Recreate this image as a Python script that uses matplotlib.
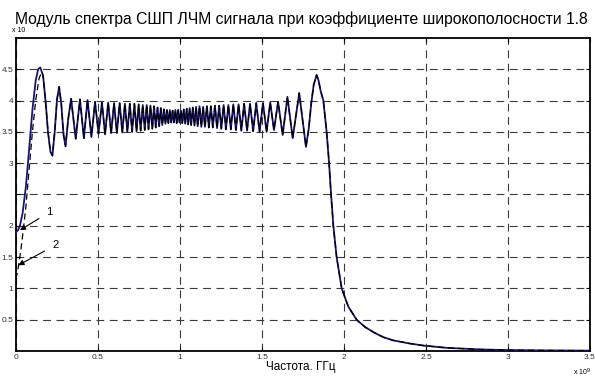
import matplotlib
matplotlib.use("Agg")
import matplotlib.pyplot as plt
import numpy as np

plt.rcParams['font.family'] = ['Liberation Sans', 'DejaVu Sans']

# ---- data (frequency in GHz, amplitude in units of 10^-10) ----
rise1_f = [0.000, 0.012, 0.024, 0.040, 0.060, 0.080, 0.100, 0.120, 0.135, 0.148]
rise1_a = [1.90, 1.93, 2.00, 2.20, 2.62, 3.22, 3.85, 4.32, 4.50, 4.53]

rise2_f = [0.000, 0.015, 0.030, 0.045, 0.060, 0.080, 0.100, 0.120, 0.140, 0.157]
rise2_a = [1.15, 1.35, 1.62, 1.95, 2.30, 2.90, 3.50, 4.00, 4.35, 4.46]

shared_f = [0.165, 0.180, 0.195, 0.210, 0.222, 0.236, 0.250, 0.263, 0.276, 0.290, 0.302,
            0.318, 0.336, 0.364, 0.390, 0.414, 0.436, 0.460, 0.482, 0.503, 0.524,
            0.543, 0.562, 0.580, 0.598, 0.615, 0.632, 0.648, 0.664, 0.679, 0.694,
            0.708, 0.722, 0.735, 0.748, 0.760, 0.773, 0.785, 0.797, 0.808, 0.820,
            0.831, 0.842, 0.852, 0.863, 0.873, 0.883, 0.892, 0.902, 0.911, 0.920,
            0.929, 0.938, 0.946, 0.955, 0.963, 0.972, 0.980, 0.989, 0.997, 1.006,
            1.014, 1.023, 1.032, 1.041, 1.050, 1.059, 1.068, 1.078, 1.088, 1.098,
            1.108, 1.119, 1.130, 1.141, 1.152, 1.164, 1.176, 1.188, 1.200, 1.213,
            1.226, 1.239, 1.252, 1.266, 1.280, 1.295, 1.310, 1.325, 1.341, 1.357,
            1.374, 1.391, 1.409, 1.427, 1.446, 1.465, 1.485, 1.506, 1.528, 1.550,
            1.573, 1.598, 1.626, 1.655, 1.687, 1.727, 1.768, 1.785, 1.800, 1.815,
            1.833, 1.845, 1.858, 1.874, 1.894, 1.909, 1.921, 1.935, 1.955, 1.986,
            2.026, 2.077, 2.130, 2.180, 2.240, 2.300, 2.400, 2.490, 2.630, 2.830,
            3.000, 3.200, 3.500]
shared_a = [4.40, 4.00, 3.50, 3.18, 3.12, 3.50, 4.02, 4.22, 3.95, 3.45, 3.27,
            3.70, 4.03, 3.39, 4.02, 3.40, 4.01, 3.42, 3.98, 3.47, 3.97,
            3.46, 3.97, 3.48, 3.96, 3.48, 3.96, 3.49, 3.95, 3.50, 3.95,
            3.50, 3.95, 3.51, 3.94, 3.52, 3.93, 3.53, 3.93, 3.54, 3.92,
            3.55, 3.91, 3.57, 3.89, 3.59, 3.88, 3.61, 3.86, 3.63, 3.85,
            3.64, 3.85, 3.65, 3.84, 3.65, 3.85, 3.64, 3.85, 3.65, 3.84,
            3.64, 3.86, 3.63, 3.87, 3.62, 3.88, 3.61, 3.89, 3.60, 3.90,
            3.59, 3.91, 3.58, 3.90, 3.58, 3.91, 3.57, 3.91, 3.57, 3.92,
            3.56, 3.92, 3.55, 3.93, 3.54, 3.93, 3.54, 3.94, 3.53, 3.94,
            3.52, 3.95, 3.52, 3.95, 3.51, 3.96, 3.50, 3.96, 3.50, 3.97,
            3.53, 3.98, 3.45, 4.06, 3.40, 4.12, 3.26, 3.55, 3.95, 4.25,
            4.41, 4.32, 4.15, 4.00, 3.50, 3.00, 2.50, 2.00, 1.50, 1.00,
            0.71, 0.50, 0.38, 0.30, 0.22, 0.17, 0.12, 0.085, 0.05, 0.025,
            0.015, 0.010, 0.006]

x_ticks = [0, 0.5, 1, 1.5, 2, 2.5, 3, 3.5]
x_tick_labels = ['0', '0.5', '1', '1.5', '2', '2.5', '3', '3.5']
y_ticks = [0.5, 1, 1.5, 2, 2.5, 3, 3.5, 4, 4.5]
y_tick_labels = ['0.5', '1', '1.5', '2', '', '3', '3.5', '4', '4.5']

title = 'Модуль спектра СШП ЛЧМ сигнала при коэффициенте широкополосности 1.8'
xlabel = 'Частота. ГГц'

curve1_f = rise1_f + shared_f
curve1_a = rise1_a + shared_a
curve2_f = rise2_f + shared_f
curve2_a = rise2_a + shared_a

fig = plt.figure(figsize=(5.95, 3.78), dpi=100)
ax = fig.add_axes([0.0269, 0.0714, 0.9647, 0.8281])

ax.plot(curve1_f, curve1_a, color='#16166e', lw=1.3, zorder=3, solid_joinstyle='round')
ax.plot(curve2_f, curve2_a, color='black', lw=0.9, ls=(0, (5, 3)), zorder=4)

ax.set_xlim(0, 3.5)
ax.set_ylim(0, 5)
ax.set_xticks(x_ticks)
ax.set_xticklabels(x_tick_labels, fontsize=6, color='#333333')
ax.set_yticks(y_ticks)
ax.set_yticklabels(y_tick_labels, fontsize=6, color='#333333')
ax.tick_params(direction='in', length=3, width=0.8, top=True, right=True, pad=2)
ax.grid(True, color='#3a3a3a', lw=0.8, ls=(0, (7, 5)))
for s in ax.spines.values():
    s.set_linewidth(1.3)

ax.annotate('1', xy=(0.024, 1.93), xytext=(0.205, 2.22), fontsize=8,
            ha='center', va='center',
            arrowprops=dict(arrowstyle='-|>', color='black', lw=0.8, mutation_scale=8,
                            shrinkA=4, shrinkB=0))
ax.annotate('2', xy=(0.014, 1.37), xytext=(0.24, 1.69), fontsize=8,
            ha='center', va='center',
            arrowprops=dict(arrowstyle='-|>', color='black', lw=0.8, mutation_scale=8,
                            shrinkA=4, shrinkB=0))

fig.text(0.506, 0.950, title, ha='center', va='center', fontsize=11.3)
fig.text(0.505, 0.03, xlabel, ha='center', va='center', fontsize=8.5)
fig.text(0.963, 0.016, 'x 10$^9$', ha='left', va='center', fontsize=5)
fig.text(0.02, 0.918, 'x 10', ha='left', va='center', fontsize=5)

fig.savefig('out.png', dpi=100)
